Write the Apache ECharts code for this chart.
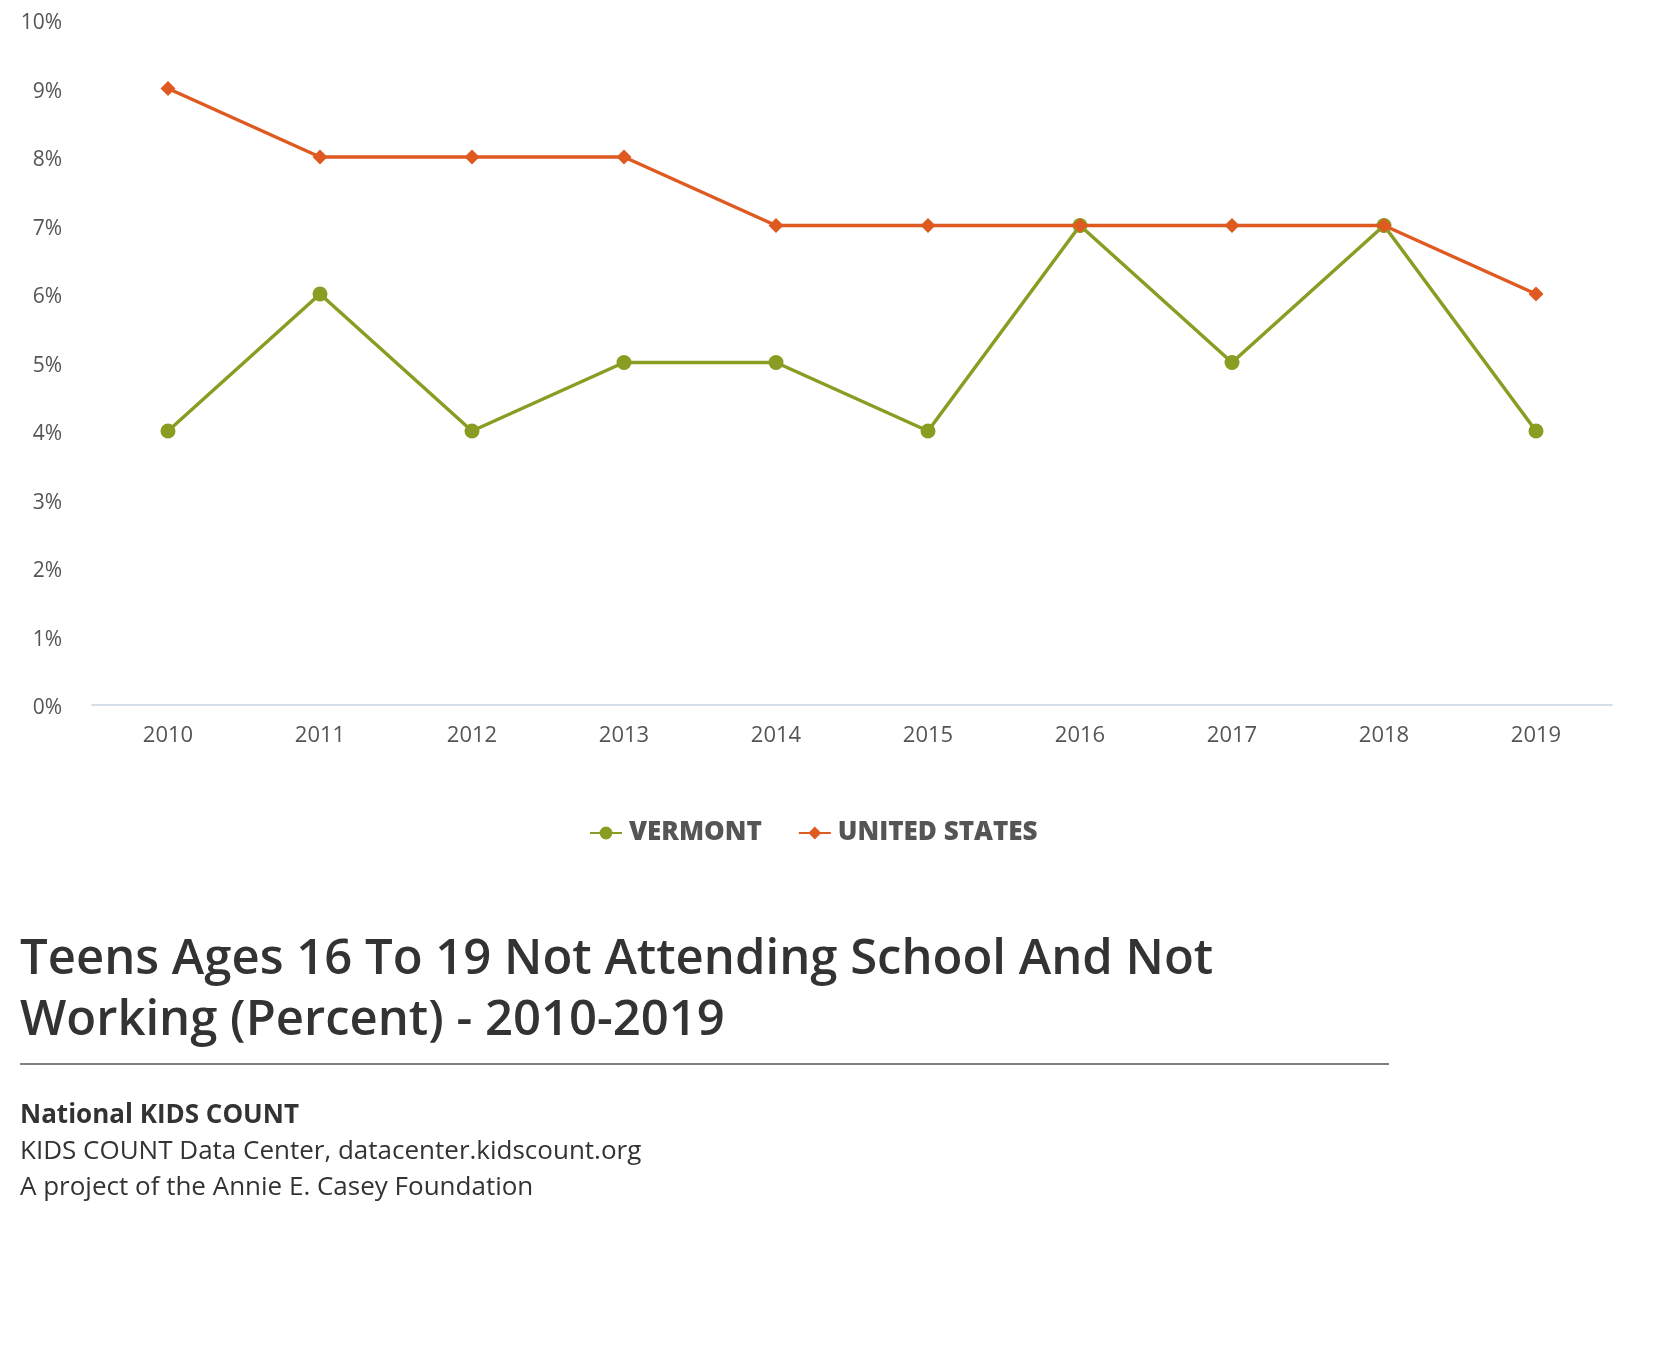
<!DOCTYPE html>
<html>
<head>
<meta charset="utf-8">
<script src="https://cdn.jsdelivr.net/npm/echarts@6/dist/echarts.min.js"></script>
<style>
html,body{margin:0;padding:0;background:#fff;}
#chart{width:1662px;height:1354px;}
</style>
</head>
<body>
<div id="chart"></div>
<script>
const years = ['2010','2011','2012','2013','2014','2015','2016','2017','2018','2019'];
const vermont = [4, 6, 4, 5, 5, 4, 7, 5, 7, 4];
const unitedStates = [9, 8, 8, 8, 7, 7, 7, 7, 7, 6];
const seriesNames = ['VERMONT', 'UNITED STATES'];
const titleText = 'Teens Ages 16 To 19 Not Attending School And Not\nWorking (Percent) - 2010-2019';
const sourceBold = 'National KIDS COUNT';
const sourceLines = 'KIDS COUNT Data Center, datacenter.kidscount.org\nA project of the Annie E. Casey Foundation';

const GREEN = '#8a9c22';
const ORANGE = '#df5a21';
const FONT = '"Open Sans", "Noto Sans", sans-serif';

const chart = echarts.init(document.getElementById('chart'));
chart.setOption({
  animation: false,
  backgroundColor: '#fff',
  textStyle: { fontFamily: FONT },
  grid: { left: 92, right: 50, top: 20, bottom: 649, containLabel: false },
  xAxis: {
    type: 'category',
    data: years,
    boundaryGap: true,
    axisLine: { show: true, lineStyle: { color: '#d3dee8', width: 2 } },
    axisTick: { show: false },
    splitLine: { show: false },
    axisLabel: { color: '#555', fontSize: 22, margin: 20, fontFamily: FONT }
  },
  yAxis: {
    type: 'value',
    min: 0, max: 10, interval: 1,
    axisLine: { show: false },
    axisTick: { show: false },
    splitLine: { show: false },
    axisLabel: {
      color: '#555', fontSize: 21, margin: 30, fontFamily: FONT,
      formatter: function (v) { return '{a|' + v + '%}'; },
      rich: { a: { color: '#555', fontSize: 21, fontFamily: FONT, padding: [7, 0, 0, 0] } }
    }
  },
  legend: {
    left: 584, top: 815,
    itemWidth: 32, itemHeight: 16, itemGap: 36,
    textStyle: { color: '#555', fontSize: 26, fontWeight: 800, fontFamily: FONT, padding: [0,0,0,2] },
    data: seriesNames
  },
  title: [
    {
      text: titleText, left: 15, top: 925,
      textStyle: { color: '#333', fontSize: 49, fontWeight: 600, lineHeight: 61, fontFamily: FONT }
    },
    {
      text: sourceBold, left: 15, top: 1098,
      textStyle: { color: '#333', fontSize: 26, fontWeight: 'bold', fontFamily: FONT }
    },
    {
      text: sourceLines, left: 15, top: 1129,
      textStyle: { color: '#333', fontSize: 26, fontWeight: 'normal', lineHeight: 36, fontFamily: FONT }
    }
  ],
  graphic: [
    { type: 'rect', shape: { x: 20, y: 1063, width: 1369, height: 2 }, style: { fill: '#808080' } }
  ],
  series: [
    {
      name: seriesNames[0], type: 'line', data: vermont,
      symbol: 'circle', symbolSize: 15,
      lineStyle: { color: GREEN, width: 3.5 },
      itemStyle: { color: GREEN }, z: 2
    },
    {
      name: seriesNames[1], type: 'line', data: unitedStates,
      symbol: 'diamond', symbolSize: 15,
      lineStyle: { color: ORANGE, width: 3.5 },
      itemStyle: { color: ORANGE }, z: 3
    }
  ]
});
</script>
</body>
</html>
